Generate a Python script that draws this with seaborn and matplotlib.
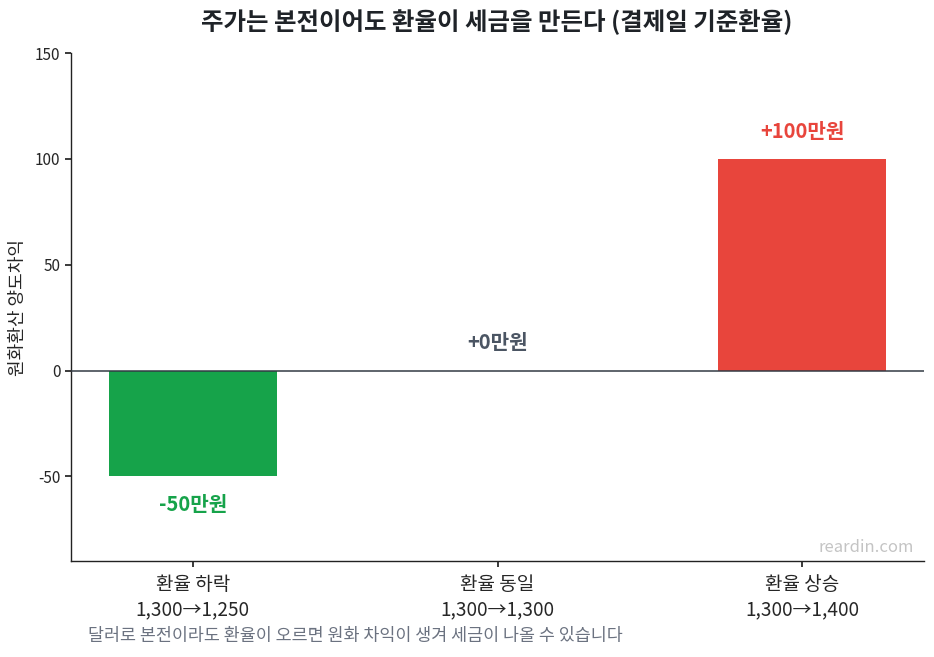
import matplotlib
matplotlib.use("Agg")
import matplotlib.pyplot as plt
import seaborn as sns
import pandas as pd

categories = ["환율 하락\n1,300→1,250", "환율 동일\n1,300→1,300", "환율 상승\n1,300→1,400"]
values = [-50, 0, 100]
labels = ["-50만원", "+0만원", "+100만원"]
colors = ["#16a34a", "#9ca3af", "#e8453c"]
label_colors = ["#16a34a", "#4b5563", "#e8453c"]

sns.set_theme(style="white")
plt.rcParams['font.family'] = ['Noto Sans CJK KR', 'DejaVu Sans']
plt.rcParams['axes.unicode_minus'] = False

df = pd.DataFrame({"cat": categories, "val": values})

fig = plt.figure(figsize=(9.34, 6.57), dpi=100)
ax = fig.add_axes([71/934, 1-561/657, (924-71)/934, (561-53)/657])

sns.barplot(data=df, x="cat", y="val", hue="cat", palette=colors, legend=False,
            width=0.55, ax=ax, saturation=1, linewidth=0, edgecolor="none")

ax.axhline(0, color="#333a44", lw=1.1, zorder=3)
ax.set_ylim(-90, 150)
ax.set_xlim(-0.4, 2.4)
ax.set_yticks([-50, 0, 50, 100, 150])
ax.tick_params(axis='y', labelsize=11, length=4, color="#222222", left=True)
ax.tick_params(axis='x', labelsize=13.7, length=4, color="#222222", bottom=True, pad=5)
for lbl in ax.get_xticklabels():
    lbl.set_linespacing(1.3)
ax.set_xlabel("")
ax.set_ylabel("원화환산 양도차익", fontsize=13, labelpad=6)
sns.despine(ax=ax)
for s in ["left", "bottom"]:
    ax.spines[s].set_color("#222222")
    ax.spines[s].set_linewidth(1.0)

for i, (v, t, c) in enumerate(zip(values, labels, label_colors)):
    off = 20 if v >= 0 else -20
    ax.annotate(t, xy=(i, v), xytext=(0, off), textcoords="offset points",
                ha="center", va="center", fontsize=14.5, fontweight="bold", color=c)

fig.text(497/934, 1-22/657, "주가는 본전이어도 환율이 세금을 만든다 (결제일 기준환율)",
         ha="center", va="center", fontsize=17.6, fontweight="bold", color="#1f2328")
fig.text(88/934, 1-636/657, "달러로 본전이라도 환율이 오르면 원화 차익이 생겨 세금이 나올 수 있습니다",
         ha="left", va="center", fontsize=12.5, color="#6b7280")
ax.text(0.988, 0.01, "reardin.com", transform=ax.transAxes, ha="right", va="bottom",
        fontsize=12, color="#c4c4c4")

fig.savefig("out.png", dpi=100)
